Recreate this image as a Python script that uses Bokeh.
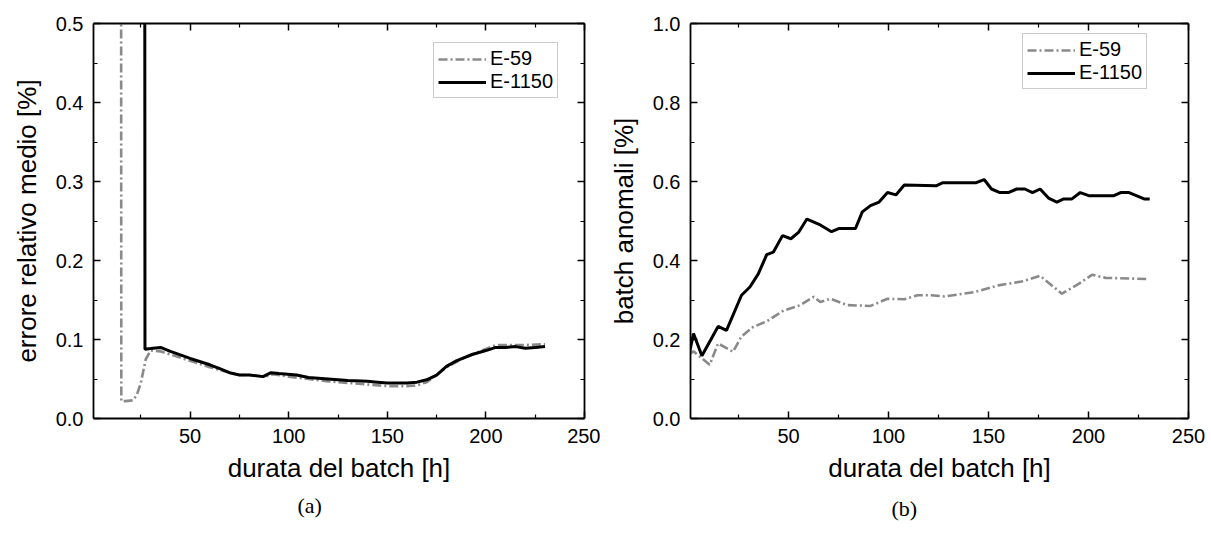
from bokeh.plotting import figure
from bokeh.layouts import row
from bokeh.models import Range1d, FixedTicker, LinearAxis, Title
from bokeh.embed import file_html
from bokeh.resources import INLINE

# ---------------- data ----------------
x_ticks = [50, 100, 150, 200, 250]
x_minor = [25, 75, 125, 175, 225]
x_tick_labels = ["50", "100", "150", "200", "250"]

ya_ticks = [0.0, 0.1, 0.2, 0.3, 0.4, 0.5]
ya_minor = [0.05, 0.15, 0.25, 0.35, 0.45]
ya_labels = ["0.0", "0.1", "0.2", "0.3", "0.4", "0.5"]

yb_ticks = [0.0, 0.2, 0.4, 0.6, 0.8, 1.0]
yb_minor = [0.1, 0.3, 0.5, 0.7, 0.9]
yb_labels = ["0.0", "0.2", "0.4", "0.6", "0.8", "1.0"]

series_names = ["E-59", "E-1150"]

# panel (a): errore relativo medio
a_e59_x = [15, 15.1, 17, 21, 23, 25, 27.5, 30, 35, 40, 50, 60, 70, 75, 80, 88, 92, 100,
           110, 120, 130, 140, 150, 160, 165, 170, 175, 180, 190, 200, 205, 210, 220, 230]
a_e59_y = [0.6, 0.022, 0.022, 0.023, 0.030, 0.045, 0.075, 0.086, 0.085, 0.081, 0.073, 0.065,
           0.058, 0.055, 0.055, 0.053, 0.056, 0.053, 0.050, 0.047, 0.045, 0.043, 0.041, 0.041,
           0.042, 0.046, 0.055, 0.065, 0.078, 0.088, 0.093, 0.093, 0.093, 0.094]

a_e1150_x = [27, 27.1, 30, 35, 40, 50, 60, 65, 70, 75, 80, 87, 91, 95, 104, 110, 120, 130,
             140, 145, 150, 160, 165, 170, 175, 180, 185, 193, 200, 205, 210, 215, 220, 225, 230]
a_e1150_y = [0.6, 0.0877, 0.0885, 0.090, 0.085, 0.076, 0.068, 0.063, 0.058, 0.055, 0.055,
             0.053, 0.058, 0.057, 0.055, 0.052, 0.050, 0.048, 0.047, 0.046, 0.045, 0.045,
             0.046, 0.049, 0.055, 0.066, 0.073, 0.081, 0.086, 0.090, 0.090, 0.091, 0.089,
             0.090, 0.091]

# panel (b): batch anomali
b_e59_x = [0.5, 2.5, 10.6, 14.8, 22.3, 26.5, 32.4, 39.1, 47.5, 55.9, 62.6, 65.9, 71, 79.4,
           91, 99.5, 107.9, 114.6, 121.3, 128, 143, 154.9, 166.6, 175.8, 186.7, 195.1,
           201.8, 208.5, 230.3]
b_e59_y = [0.163, 0.17, 0.136, 0.19, 0.169, 0.208, 0.232, 0.246, 0.273, 0.287, 0.308, 0.295,
           0.303, 0.287, 0.285, 0.303, 0.302, 0.312, 0.312, 0.309, 0.32, 0.337, 0.347, 0.361,
           0.316, 0.341, 0.364, 0.356, 0.353]

b_e1150_x = [0.5, 2.5, 6.7, 14.8, 19, 26.5, 30.7, 34.9, 39.1, 42.4, 47, 51.2, 55, 59.2, 65.9,
             71.5, 75.1, 83.5, 86.9, 91, 95.3, 99.5, 103.7, 107.9, 123.8, 127.2, 143.9, 147.8,
             151.5, 155.7, 159.9, 164.1, 168.2, 172, 175.8, 180, 184.2, 187.6, 191.7, 195.9,
             200.1, 212.7, 216.1, 220.3, 227.8, 230.6]
b_e1150_y = [0.167, 0.215, 0.159, 0.233, 0.223, 0.312, 0.333, 0.366, 0.415, 0.421, 0.463,
             0.455, 0.471, 0.505, 0.49, 0.473, 0.481, 0.481, 0.523, 0.539, 0.548, 0.572,
             0.566, 0.591, 0.589, 0.597, 0.597, 0.605, 0.581, 0.572, 0.572, 0.581, 0.581,
             0.572, 0.581, 0.558, 0.548, 0.556, 0.556, 0.572, 0.564, 0.564, 0.572, 0.572,
             0.556, 0.556]

FONT = "Liberation Sans"


def style_axis(ax, ticks, minor, labels, show_labels=True):
    ax.ticker = FixedTicker(ticks=ticks, minor_ticks=minor)
    ax.major_label_overrides = {t: l for t, l in zip(ticks, labels)}
    ax.axis_line_color = "black"
    ax.axis_line_width = 1.8
    ax.major_tick_line_color = "black"
    ax.major_tick_line_width = 1.5
    ax.minor_tick_line_color = "black"
    ax.minor_tick_line_width = 1.2
    ax.major_tick_in = 7
    ax.major_tick_out = 0
    ax.minor_tick_in = 4
    ax.minor_tick_out = 0
    if show_labels:
        ax.major_label_text_font = FONT
        ax.major_label_text_font_size = "20px"
        ax.major_label_text_color = "black"
        ax.major_label_standoff = 10
    else:
        ax.major_label_text_font_size = "0px"
        ax.major_label_text_color = None
        ax.major_label_standoff = 0


def make_panel(width, ymax, yt, ym, yl, ylabel, caption, borders, curves, legend_xy,
               cap_offset, cap_standoff):
    bl, br, bt, bb = borders
    p = figure(width=width, height=537, x_range=Range1d(1, 250), y_range=Range1d(0, ymax),
               output_backend="svg", toolbar_location=None,
               min_border_left=bl, min_border_right=br, min_border_top=bt, min_border_bottom=bb)
    p.outline_line_color = None
    p.xgrid.visible = False
    p.ygrid.visible = False
    p.background_fill_color = "white"
    p.border_fill_color = "white"

    style_axis(p.xaxis[0], x_ticks, x_minor, x_tick_labels)
    style_axis(p.yaxis[0], yt, ym, yl)
    p.xaxis[0].axis_label = "durata del batch [h]"
    p.yaxis[0].axis_label = ylabel
    for ax in (p.xaxis[0], p.yaxis[0]):
        ax.axis_label_text_font = FONT
        ax.axis_label_text_font_size = "26px"
        ax.axis_label_text_font_style = "normal"
        ax.axis_label_text_color = "black"
    p.xaxis[0].axis_label_standoff = 7
    p.yaxis[0].axis_label_standoff = 11

    top = LinearAxis()
    style_axis(top, x_ticks, x_minor, x_tick_labels, show_labels=False)
    p.add_layout(top, "above")
    right = LinearAxis()
    style_axis(right, yt, ym, yl, show_labels=False)
    p.add_layout(right, "right")

    (x1, y1), (x2, y2) = curves
    p.line(x1, y1, line_color="#8a8a8a", line_width=2.6, line_dash="9 3 2 3",
           legend_label=series_names[0])
    p.line(x2, y2, line_color="black", line_width=3.0, legend_label=series_names[1])

    lg = p.legend[0]
    lg.location = legend_xy
    lg.label_text_font = FONT
    lg.label_text_font_size = "20px"
    lg.label_text_color = "black"
    lg.glyph_width = 48
    lg.glyph_height = 20
    lg.label_height = 20
    lg.label_standoff = 4
    lg.padding = 4
    lg.spacing = 0
    lg.margin = 0
    lg.border_line_color = "#9a9a9a"
    lg.border_line_width = 1
    lg.background_fill_alpha = 1.0

    t = Title(text=caption, text_font="Liberation Serif", text_font_size="22px",
              text_font_style="normal", text_color="black", align="left", offset=cap_offset,
              standoff=cap_standoff)
    p.add_layout(t, "below")
    return p


pa = make_panel(600, 0.5, ya_ticks, ya_minor, ya_labels, "errore relativo medio [%]", "(a)",
                (93, 16, 23, 119), ((a_e59_x, a_e59_y), (a_e1150_x, a_e1150_y)),
                (340, 320), 204, 10)
pb = make_panel(611, 1.0, yb_ticks, yb_minor, yb_labels, "batch anomali [%]", "(b)",
                (90, 23, 21, 113), ((b_e59_x, b_e59_y), (b_e1150_x, b_e1150_y)),
                (332, 329), 201, 17)

layout = row(pa, pb, spacing=0)
open("out.html", "w").write(file_html(layout, INLINE))
